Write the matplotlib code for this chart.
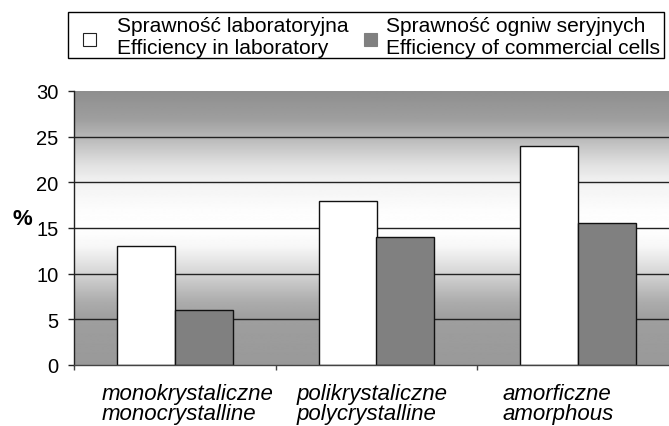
import numpy as np
import matplotlib
matplotlib.use("Agg")
import matplotlib.pyplot as plt
from matplotlib.patches import Rectangle
from matplotlib.transforms import ScaledTranslation

plt.rcParams['font.family'] = ['Liberation Sans', 'DejaVu Sans']

categories = ["monokrystaliczne\nmonocrystalline",
              "polikrystaliczne\npolycrystalline",
              "amorficzne\namorphous"]
lab_eff = [13, 18, 24]
commercial_eff = [6, 14, 15.6]
series_names = ["Sprawność laboratoryjna\nEfficiency in laboratory",
                "Sprawność ogniw seryjnych\nEfficiency of commercial cells"]
series_colors = ["#ffffff", "#808080"]
yticks = [0, 5, 10, 15, 20, 25, 30]

W, H = 669, 427
fig = plt.figure(figsize=(W / 100, H / 100), dpi=100)
ax = fig.add_axes([74 / W, 1 - 366 / H, 605 / W, 274 / H])

x = np.arange(len(categories))
bw = 0.287
ax.set_xlim(-0.5, len(categories) - 0.5)
ax.set_ylim(0, 30)

# gradient background
gy = np.array([0, 5, 7, 9, 11, 13, 15, 17, 20, 22, 25, 27, 30])
gv = np.array([0.60, 0.62, 0.68, 0.78, 0.88, 0.97, 1.0, 0.99, 0.95, 0.88, 0.72, 0.62, 0.56])
yy = np.linspace(0, 30, 300)
prof = np.interp(yy, gy, gv)[:, None]
ax.imshow(prof, extent=(-0.5, len(categories) - 0.5, 0, 30), origin='lower',
          aspect='auto', cmap='gray', vmin=0, vmax=1, zorder=0, interpolation='bilinear')

ax.set_axisbelow(True)
ax.yaxis.grid(True, color='#222222', linewidth=1.0)
ax.xaxis.grid(False)

ax.bar(x - bw / 2, lab_eff, width=bw, color=series_colors[0], edgecolor='#111111',
       linewidth=1.0, zorder=2)
ax.bar(x + bw / 2, commercial_eff, width=bw, color=series_colors[1], edgecolor='#111111',
       linewidth=1.0, zorder=2)

ax.set_yticks(yticks)
ax.set_yticklabels([str(v) for v in yticks], fontsize=14.5)
ax.tick_params(axis='y', direction='out', length=4.3, width=1, pad=7, color='#222222')
gl = ax.yaxis.get_gridlines()
gl[0].set_visible(False)
gl[-1].set_visible(False)

ax.set_xticks(np.arange(len(categories) + 1) - 0.5)
ax.set_xticklabels([])
ax.tick_params(axis='x', which='major', direction='out', length=3.6, width=1, color='#444444')
ax.set_xticks(x, minor=True)
ax.set_xticklabels(categories, minor=True, fontsize=16, style='italic',
                   linespacing=0.92, multialignment='left')
ax.tick_params(axis='x', which='minor', length=0, pad=13)
offsets = [0.13, -0.04, -0.20]
for lbl, dx in zip(ax.xaxis.get_minorticklabels(), offsets):
    lbl.set_transform(lbl.get_transform() + ScaledTranslation(dx, 0, fig.dpi_scale_trans))

for s in ['top', 'right']:
    ax.spines[s].set_visible(False)
ax.spines['left'].set_color('#222222')
ax.spines['bottom'].set_color('#444444')
ax.spines['left'].set_linewidth(1.0)
ax.spines['bottom'].set_linewidth(1.0)

ax.set_ylabel('%', rotation=0, fontsize=16, fontweight='bold')
ax.yaxis.set_label_coords(-52 / 605, (366 - 220) / 274)
ax.yaxis.label.set_va('center')

# legend (figure pixel coords)
def px(xp, yp):
    return xp / W, 1 - yp / H

bx0, by0 = px(68, 59)
bx1, by1 = px(664, 12.7)
fig.patches.append(Rectangle((bx0, by0), bx1 - bx0, by1 - by0, transform=fig.transFigure,
                             facecolor='white', edgecolor='black', linewidth=1.0))
marker_x = [83, 364]
text_x = [117, 386]
for name, col, mx, tx in zip(series_names, series_colors, marker_x, text_x):
    mx0, my0 = px(mx, 47)
    fig.patches.append(Rectangle((mx0, my0), 13 / W, 13 / H, transform=fig.transFigure,
                                 facecolor=col, edgecolor='#222222' if col == '#ffffff' else col,
                                 linewidth=0.8))
    for i, line in enumerate(name.split('\n')):
        tx0, ty0 = px(tx, 32 + 22 * i)
        fig.text(tx0, ty0, line, fontsize=15.1, va='baseline', ha='left')

fig.savefig('out.png', dpi=100)
